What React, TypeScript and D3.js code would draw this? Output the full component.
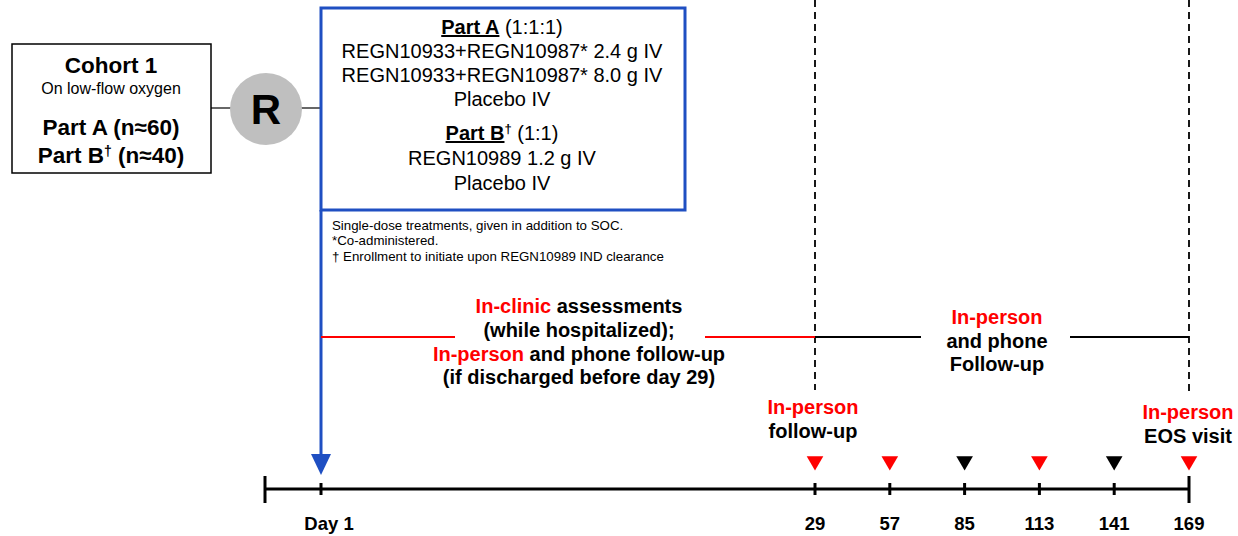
import React from "react";
import * as d3 from "d3";

// timeline days and visit markers
const axisDays = [1, 29, 57, 85, 113, 141, 169];
const axisLabels = ["Day 1", "29", "57", "85", "113", "141", "169"];
const visitDays = [29, 57, 85, 113, 141, 169];
const visitInPerson = [true, true, false, true, false, true];

const cohortLines = ["Cohort 1", "On low-flow oxygen"];
const partALines = ["REGN10933+REGN10987* 2.4 g IV", "REGN10933+REGN10987* 8.0 g IV", "Placebo IV"];
const partBLines = ["REGN10989 1.2 g IV", "Placebo IV"];
const footnotes = [
  "Single-dose treatments, given in addition to SOC.",
  "*Co-administered.",
  "\u2020 Enrollment to initiate upon REGN10989 IND clearance",
];

const RED = "#ff0000";
const BLUE = "#1f4fc2";
const FONT = "Liberation Sans, Arial, sans-serif";

export default function App() {
  const W = 1238;
  const H = 536;
  // day axis is compressed after day 29
  const x = d3.scaleLinear().domain([1, 29, 169]).range([321, 815, 1189]);
  const axisY = 489;
  const axisStart = 265;
  const tri = d3.symbol().type(d3.symbolTriangle).size(120);

  return (
    <svg width={W} height={H} style={{ position: "absolute", left: 0, top: 0 }} fontFamily={FONT}>
      <rect width={W} height={H} fill="#fff" />

      {/* cohort box */}
      <rect x={12} y={44} width={199} height={129} fill="#fff" stroke="#000" strokeWidth={1.5} />
      <g textAnchor="middle" fontWeight="bold" fill="#000">
        <text x={111} y={73} fontSize={22.5}>{cohortLines[0]}</text>
        <text x={111} y={94} fontSize={16} fontWeight="normal">{cohortLines[1]}</text>
        <text x={111} y={135} fontSize={22.5}>Part A (n≈60)</text>
        <text x={111} y={163} fontSize={22.5}>
          Part B<tspan fontSize={14} dy={-7}>†</tspan><tspan dy={7}> (n≈40)</tspan>
        </text>
      </g>

      {/* randomisation */}
      <line x1={211} x2={232} y1={108} y2={108} stroke="#000" strokeWidth={1.2} />
      <line x1={300} x2={321} y1={108} y2={108} stroke="#000" strokeWidth={1.2} />
      <circle cx={266} cy={109} r={36} fill="#bfbfbf" />
      <text x={266} y={124} textAnchor="middle" fontSize={42} fontWeight="bold">R</text>

      {/* treatment box */}
      <rect x={321} y={8} width={364} height={202} fill="#fff" stroke={BLUE} strokeWidth={3} />
      <g textAnchor="middle" fontSize={20} fill="#000">
        <text x={502} y={34}>
          <tspan fontWeight="bold" textDecoration="underline">Part A</tspan> (1:1:1)
        </text>
        {partALines.map((t, i) => (
          <text key={t + i} x={502} y={58 + i * 24}>{t}</text>
        ))}
        <text x={502} y={140}>
          <tspan fontWeight="bold" textDecoration="underline">Part B</tspan>
          <tspan fontSize={13} dy={-7} fontWeight="bold">†</tspan>
          <tspan dy={7}> (1:1)</tspan>
        </text>
        {partBLines.map((t, i) => (
          <text key={t + i} x={502} y={165 + i * 25}>{t}</text>
        ))}
      </g>
      {footnotes.map((t, i) => (
        <text key={i} x={332} y={229.5 + i * 15.5} fontSize={13.3} fill="#000">{t}</text>
      ))}

      {/* blue arrow from box to day 1 */}
      <line x1={x(1)} x2={x(1)} y1={210} y2={458} stroke={BLUE} strokeWidth={3} />
      <path d={`M${x(1) - 10},454 L${x(1) + 10},454 L${x(1)},475 Z`} fill={BLUE} />

      {/* dashed lines */}
      <line x1={x(29)} x2={x(29)} y1={0} y2={390} stroke="#000" strokeWidth={1.8} strokeDasharray="7,5" />
      <line x1={x(169)} x2={x(169)} y1={0} y2={395} stroke="#000" strokeWidth={1.8} strokeDasharray="7,5" />

      {/* period lines */}
      <line x1={x(1)} x2={455} y1={337} y2={337} stroke={RED} strokeWidth={1.8} />
      <line x1={705} x2={x(29)} y1={337} y2={337} stroke={RED} strokeWidth={1.8} />
      <line x1={x(29)} x2={921} y1={337} y2={337} stroke="#000" strokeWidth={1.8} />
      <line x1={1070} x2={x(169)} y1={337} y2={337} stroke="#000" strokeWidth={1.8} />

      <g textAnchor="middle" fontSize={20} fontWeight="bold" fill="#000">
        <text x={579} y={313}><tspan fill={RED}>In-clinic</tspan> assessments</text>
        <text x={579} y={337}>(while hospitalized);</text>
        <text x={579} y={361}><tspan fill={RED}>In-person</tspan> and phone follow-up</text>
        <text x={579} y={384}>(if discharged before day 29)</text>

        <text x={997} y={324} fill={RED}>In-person</text>
        <text x={997} y={348}>and phone</text>
        <text x={997} y={371}>Follow-up</text>

        <text x={813} y={414} fill={RED}>In-person</text>
        <text x={813} y={438}>follow-up</text>
        <text x={1188} y={419} fill={RED}>In-person</text>
        <text x={1188} y={443}>EOS visit</text>
      </g>

      {/* visit markers */}
      {visitDays.map((d, i) => (
        <path
          key={d}
          d={tri() as string}
          transform={`translate(${x(d)},461) rotate(180)`}
          fill={visitInPerson[i] ? RED : "#000"}
        />
      ))}

      {/* axis */}
      <line x1={axisStart} x2={x(169)} y1={axisY} y2={axisY} stroke="#000" strokeWidth={3} />
      <line x1={axisStart} x2={axisStart} y1={476} y2={503} stroke="#000" strokeWidth={3} />
      <line x1={x(169)} x2={x(169)} y1={476} y2={503} stroke="#000" strokeWidth={3} />
      {axisDays.slice(0, -1).map((d) => (
        <line key={d} x1={x(d)} x2={x(d)} y1={483} y2={495} stroke="#000" strokeWidth={3} />
      ))}
      {axisDays.map((d, i) => (
        <text key={d} x={x(d) + (i === 0 ? 8 : 0)} y={530} textAnchor="middle" fontSize={18.5} fontWeight="bold">
          {axisLabels[i]}
        </text>
      ))}
    </svg>
  );
}
